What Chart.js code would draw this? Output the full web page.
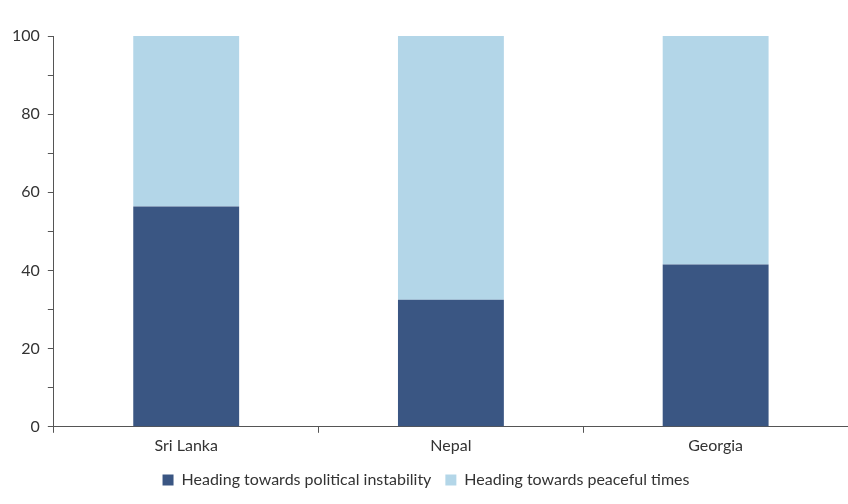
<!DOCTYPE html>
<html>
<head>
<meta charset="utf-8">
<script src="https://cdn.jsdelivr.net/npm/chart.js@4/dist/chart.umd.min.js"></script>
<style>
  html, body { margin: 0; padding: 0; background: #fff; }
  #wrap { width: 848px; height: 504px; }
</style>
</head>
<body>
<div id="wrap"><canvas id="chart"></canvas></div>
<script>
var categories = ['Sri Lanka', 'Nepal', 'Georgia'];
var instability = [56.4, 32.5, 41.5];
var peaceful = [43.6, 67.5, 58.5];
var seriesNames = ['Heading towards political instability', 'Heading towards peaceful times'];

var ctx = document.getElementById('chart');
new Chart(ctx, {
  type: 'bar',
  data: {
    labels: categories,
    datasets: [
      { label: seriesNames[0], data: instability, backgroundColor: '#3a5683', categoryPercentage: 1, barPercentage: 0.4 },
      { label: seriesNames[1], data: peaceful, backgroundColor: '#b3d6e8', categoryPercentage: 1, barPercentage: 0.4 }
    ]
  },
  options: {
    responsive: true,
    maintainAspectRatio: false,
    animation: false,
    layout: { padding: { left: 4, right: 0, top: 36, bottom: 6 } },
    plugins: {
      legend: {
        position: 'bottom',
        labels: { boxWidth: 11, boxHeight: 11, color: '#333', font: { family: 'Lato', size: 16 }, padding: 14 }
      },
      tooltip: { enabled: false }
    },
    scales: {
      x: {
        stacked: true,
        grid: { display: true, drawOnChartArea: false, offset: true, tickLength: 6, color: '#555' },
        border: { color: '#555' },
        ticks: { color: '#333', font: { family: 'Lato', size: 16 } }
      },
      y: {
        stacked: true,
        min: 0,
        max: 100,
        grid: { drawOnChartArea: false, tickLength: 6, color: '#555' },
        border: { color: '#555' },
        ticks: {
          stepSize: 10,
          color: '#333',
          font: { family: 'Lato', size: 16 },
          padding: 8,
          callback: function (v) { return v % 20 === 0 ? v : ''; }
        }
      }
    }
  }
});
</script>
</body>
</html>
